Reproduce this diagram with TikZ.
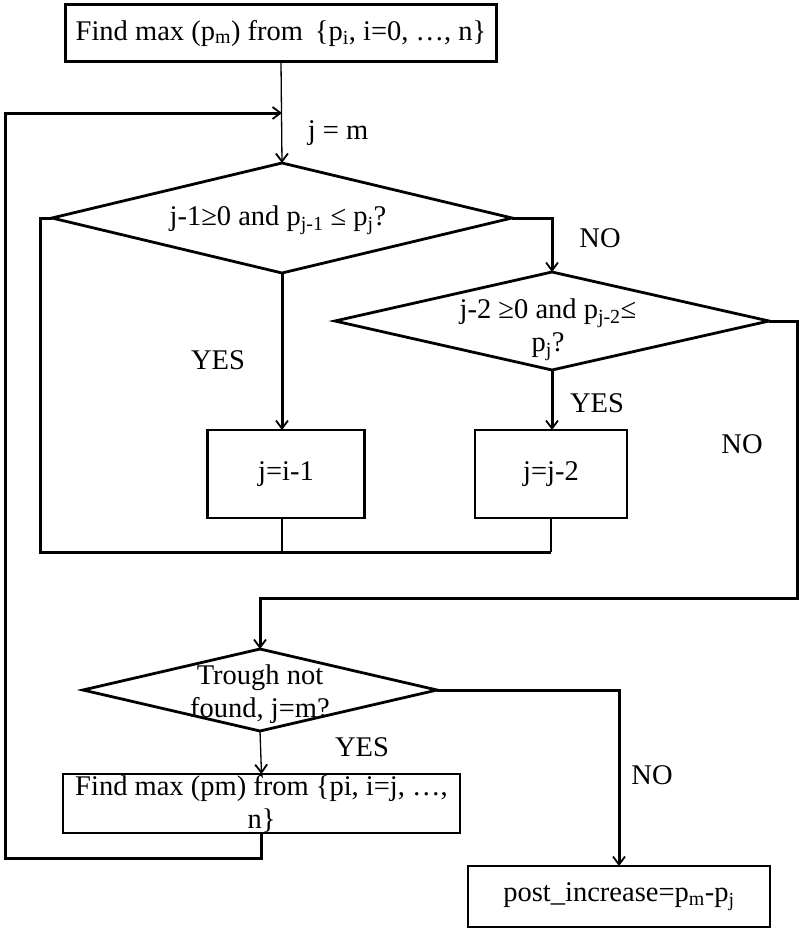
\documentclass[tikz,border=0pt]{standalone}
\usepackage{fontspec}
\setmainfont{Liberation Serif}
\usetikzlibrary{shapes.geometric,arrows.meta}
\begin{document}
\begin{tikzpicture}[x=1pt,y=-1pt,
  every node/.style={font=\fontsize{28.5}{33}\selectfont, inner sep=0pt, outer sep=0pt},
  box/.style={draw, line width=2.8pt, rectangle, align=center},
  dia/.style={draw, line width=2.8pt, diamond, shape aspect=1},
  thickline/.style={line width=3pt},
  thinline/.style={line width=1.3pt},
  tip/.style={-{Straight Barb[length=8pt,width=12pt,line width=1.8pt]}},
  lbl/.style={}]
\useasboundingbox (0,0) rectangle (800,929);
% nodes
\node[box, minimum width=431, minimum height=57] (top) at (281,33) {Find max (p\textsubscript{m}) from \,\{p\textsubscript{i}, i=0, \dots, n\}};
\node[dia, minimum width=460, minimum height=110] (d1) at (282,218) {};
\node at (278,220) (t1) {j-1≥0 and p\textsubscript{j-1} ≤ p\textsubscript{j}?};
\node[dia, minimum width=434, minimum height=98] (d2) at (552,321) {};
\node[align=center] at (548,330) (t2) {j-2 ≥0 and p\textsubscript{j-2}≤\\p\textsubscript{j}?};
\node[box, minimum width=157, minimum height=88] (b1) at (286,474) {j=i-1};
\node[box, minimum width=152, minimum height=88] (b2) at (551,474) {j=j-2};
\node[dia, minimum width=354, minimum height=82] (d3) at (260,690) {};
\node[align=center] at (260,694) (t3) {Trough not\\found, j=m?};
\node[box, minimum width=397, minimum height=59] (b4) at (261.5,803.5) {Find max (pm) from \{pi, i=j, \dots,\\n\}};
\node[box, minimum width=302, minimum height=61] (b5) at (619,896.5) {post\_increase=p\textsubscript{m}-p\textsubscript{j}};
% labels
\node[lbl] (l1) at (338,133) {j = m};
\node[lbl] (l2) at (600,238) {NO};
\node[lbl] (l3) at (218,360) {YES};
\node[lbl] (l4) at (597,403) {YES};
\node[lbl] (l5) at (742,444) {NO};
\node[lbl] (l6) at (362,747) {YES};
\node[lbl] (l7) at (652,775) {NO};
% coordinates
\coordinate (jn) at (282,113);
\coordinate (lt) at (5,113);
\coordinate (lb) at (5,858);
\coordinate (bl) at (40,552);
\coordinate (rt) at (797,598);
% connectors
\draw[thinline,tip] (top.south) -- (d1.north);
\draw[thickline,tip] (b4.south) |- (lb) -- (lt) -- (jn);
\draw[thickline,tip] (d1.east) -| (d2.north);
\draw[thickline,tip] (d1.south) -- (d1.south |- b1.north);
\draw[thickline,tip] (d2.south) -- (d2.south |- b2.north);
\draw[thickline] (d1.west) -- (d1.west -| bl) -- (bl) -- (b2.south |- bl);
\draw[thinline] (d1.south |- b1.south) -- (d1.south |- bl);
\draw[thinline] (b2.south) -- (b2.south |- bl);
\draw[thickline,tip] (d2.east) -| (rt) -| (d3.north);
\draw[thinline,tip] (d3.south) -- (b4.north);
\draw[thickline,tip] (d3.east) -| (b5.north);
\end{tikzpicture}
\end{document}
